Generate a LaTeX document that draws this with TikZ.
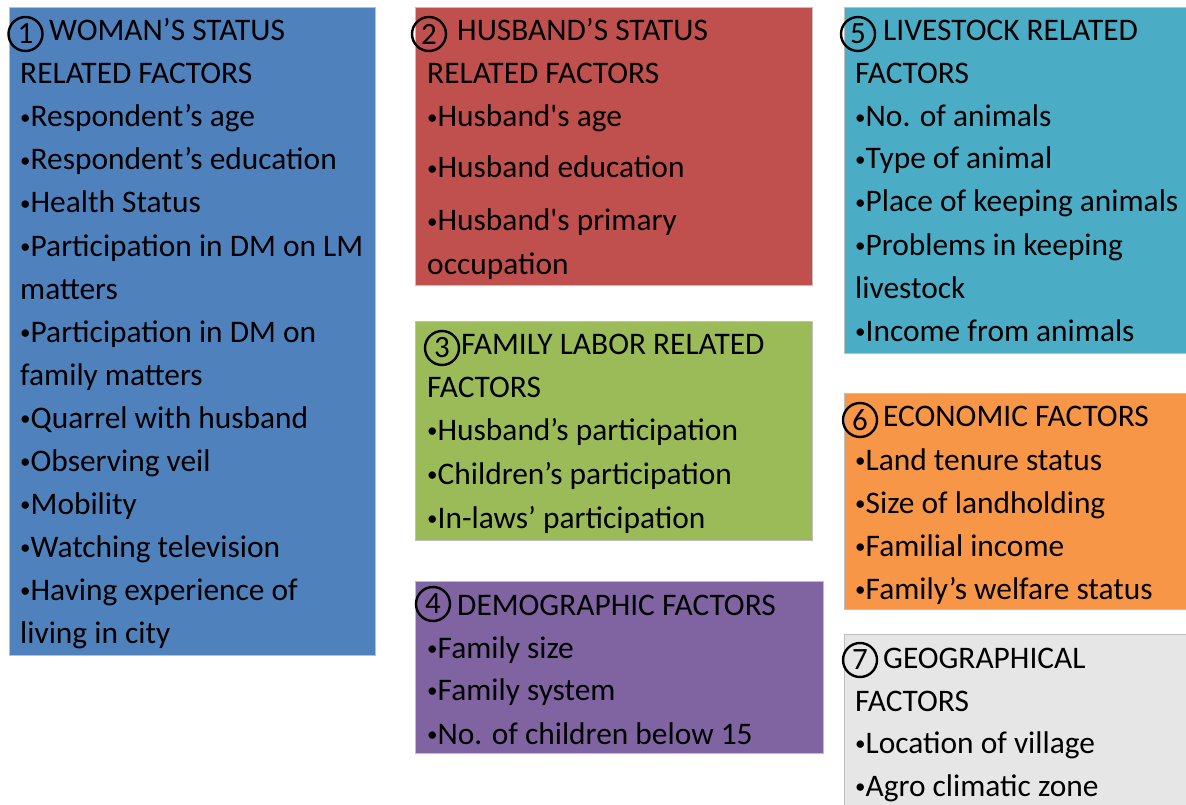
\documentclass[tikz,border=0pt]{standalone}
\usepackage{fontspec}
\newfontfamily\carl{Carlito}
\definecolor{cblue}{HTML}{4F81BD}
\definecolor{cred}{HTML}{C0504D}
\definecolor{cgreen}{HTML}{9BBB59}
\definecolor{cpurple}{HTML}{8064A2}
\definecolor{cteal}{HTML}{4BACC6}
\definecolor{corange}{HTML}{F79646}
\definecolor{cgray}{HTML}{E6E6E6}
\definecolor{cedge}{HTML}{BFBFBF}
\newcommand{\bulx}{{\fontsize{21}{21}\selectfont\raisebox{2.5pt}{•}}}
\tikzset{
  box/.style={draw=cedge, line width=0.8pt, inner sep=0pt, anchor=north west},
  txt/.style={inner sep=0pt, anchor=base west, font=\carl\fontsize{31.4}{36}\selectfont, text=black, yshift=-1pt},
  num/.style={circle, draw=black, line width=2.4pt, inner sep=0pt, minimum size=34pt, font=\carl\fontsize{31}{31}\selectfont}
}
\begin{document}
\begin{tikzpicture}[x=1pt,y=-1pt]
\useasboundingbox (0,0) rectangle (1186,805);
% boxes
\node[box, fill=cblue, minimum width=366pt, minimum height=648pt] (b1) at (9,7) {};
\node[box, fill=cred, minimum width=397pt, minimum height=278pt] (b2) at (415,7) {};
\node[box, fill=cgreen, minimum width=397pt, minimum height=219pt] (b3) at (415,321) {};
\node[box, fill=cpurple, minimum width=408pt, minimum height=172pt] (b4) at (415,581) {};
\node[box, fill=cteal, minimum width=345pt, minimum height=346pt] (b5) at (844,7) {};
\node[box, fill=corange, minimum width=345pt, minimum height=216pt] (b6) at (844,393) {};
\node[box, fill=cgray, minimum width=345pt, minimum height=175pt] (b7) at (844,634) {};
% numbers
\node[num] (n1) at (25.5,34) {1};
\node[num] (n2) at (429,34) {2};
\node[num] (n3) at (442,348) {3};
\node[num] (n4) at (433,604) {4};
\node[num] (n5) at (858,34) {5};
\node[num] (n6) at (860,420) {6};
\node[num] (n7) at (860,660) {7};
% box 1
\node[txt] (h1) at (49,40) {WOMAN’S STATUS};
\foreach \t/\y [count=\i] in {{RELATED FACTORS}/83, {\bulx Respondent’s age}/126, {\bulx Respondent’s education}/169, {\bulx Health Status}/212, {\bulx Participation in DM on LM}/255, {matters}/298, {\bulx Participation in DM on}/341, {family matters}/384, {\bulx Quarrel with husband}/427, {\bulx Observing veil}/470, {\bulx Mobility}/513, {\bulx Watching television}/556, {\bulx Having experience of}/599, {living in city}/642}
  \node[txt] (a\i) at (20,\y) {\t};
% box 2
\node[txt] (h2) at (457,40) {HUSBAND’S STATUS};
\foreach \t/\y [count=\i] in {{RELATED FACTORS}/83, {\bulx Husband's age}/126, {\bulx Husband education}/177, {\bulx Husband's primary}/230, {occupation}/273}
  \node[txt] (c\i) at (427,\y) {\t};
% box 3
\node[txt] (h3) at (461,353) {FAMILY LABOR RELATED};
\foreach \t/\y [count=\i] in {{FACTORS}/396, {\bulx Husband’s participation}/439, {\bulx Children’s participation}/483, {\bulx In-laws’ participation}/527}
  \node[txt] (d\i) at (427,\y) {\t};
% box 4
\node[txt] (h4) at (457,614) {DEMOGRAPHIC FACTORS};
\foreach \t/\y [count=\i] in {{\bulx Family size}/657, {\bulx Family system}/699, {\bulx No. of children below 15}/743}
  \node[txt] (e\i) at (427,\y) {\t};
% box 5
\node[txt] (h5) at (883,40) {LIVESTOCK RELATED};
\foreach \t/\y [count=\i] in {{FACTORS}/83, {\bulx No. of animals}/126, {\bulx Type of animal}/168, {\bulx Place of keeping animals}/211, {\bulx Problems in keeping}/254, {livestock}/297, {\bulx Income from animals}/340}
  \node[txt] (f\i) at (855,\y) {\t};
% box 6
\node[txt] (h6) at (883,425) {ECONOMIC FACTORS};
\foreach \t/\y [count=\i] in {{\bulx Land tenure status}/469, {\bulx Size of landholding}/512, {\bulx Familial income}/555, {\bulx Family’s welfare status}/598}
  \node[txt] (g\i) at (855,\y) {\t};
% box 7
\node[txt] (h7) at (883,667) {GEOGRAPHICAL};
\foreach \t/\y [count=\i] in {{FACTORS}/710, {\bulx Location of village}/752, {\bulx Agro climatic zone}/795}
  \node[txt] (k\i) at (855,\y) {\t};
\end{tikzpicture}
\end{document}
